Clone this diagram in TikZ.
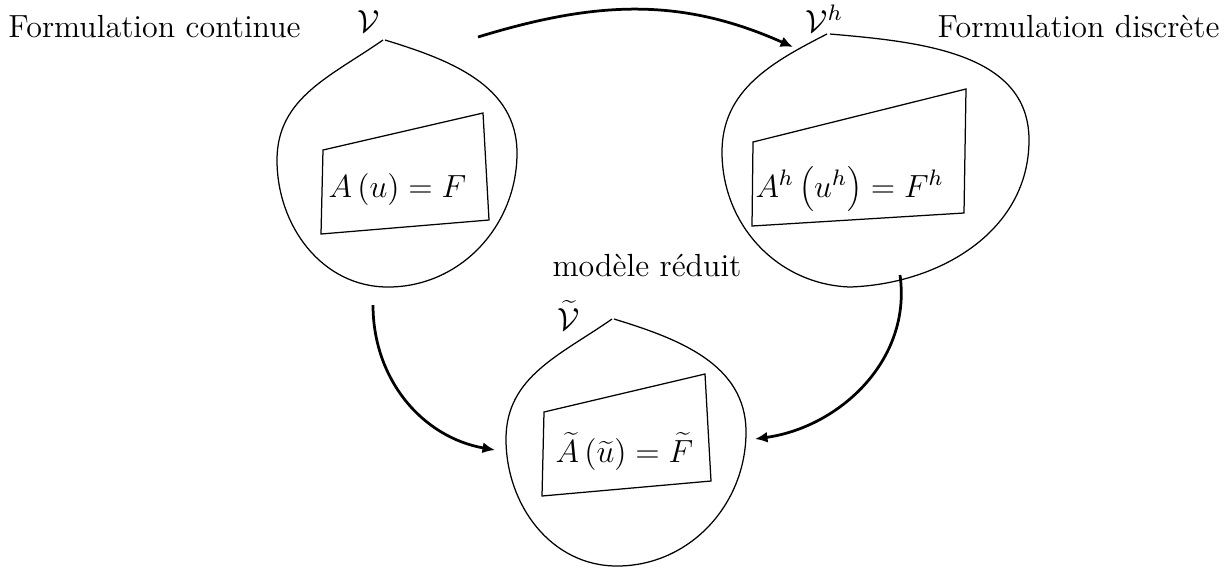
\RequirePackage{fix-cm}
\documentclass[tikz,border=0pt]{standalone}
\usetikzlibrary{arrows.meta}
\begin{document}
\begin{tikzpicture}[x=0.4pt,y=-0.4pt,
  blob/.style={line width=0.5pt},
  quad/.style={line width=0.5pt},
  conn/.style={line width=1.1pt,-{Latex[length=5pt,width=4.4pt]}},
  lbl/.style={font=\fontsize{12.8}{15}\selectfont, inner sep=0pt}]
\useasboundingbox (0,0) rectangle (1226,569);
% blobs
\draw[blob] (383,40) to[out=-145,in=90] (277,160) to[out=-90,in=180] (388,287)
  to[out=0,in=-90] (517,153) to[out=90,in=-17] (385,40);
\draw[blob] (827,34) to[out=-153,in=90] (722,152) to[out=-90,in=178] (850,287)
  to[out=2,in=-90] (1029,140) to[out=90,in=-5] (830,34);
\begin{scope}[shift={(229,279)}]
\draw[blob] (383,40) to[out=-145,in=90] (277,160) to[out=-90,in=180] (388,287)
  to[out=0,in=-90] (517,153) to[out=90,in=-17] (385,40);
\end{scope}
% quadrilaterals
\draw[quad] (323,150) -- (483,113) -- (489,220) -- (321,234) -- cycle;
\draw[quad] (753,142) -- (966,89) -- (964,213) -- (752,226) -- cycle;
\draw[quad] (544,412) -- (705,374) -- (711,481) -- (542,496) -- cycle;
% labels
\node[lbl, anchor=base west] (fc) at (8,37) {Formulation continue};
\node[lbl, anchor=base east] (fd) at (1220,37) {Formulation discrète};
\node[lbl, anchor=base] (mr) at (647,276) {modèle réduit};
\node[lbl, anchor=base west] (V) at (357,32) {$\mathcal{V}$};
\node[lbl, anchor=base west] (Vh) at (805,32) {$\mathcal{V}^h$};
\node[lbl, anchor=base west] (Vt) at (557,330) {$\widetilde{\mathcal{V}}$};
\node[lbl, anchor=base west] (e1) at (328,197) {$A\left(u\right)=F$};
\node[lbl, anchor=base west] (e2) at (755,197) {$A^h\left(u^h\right)=F^h$};
\node[lbl, anchor=base west] (e3) at (555,462) {$\widetilde{A}\left(\widetilde{u}\right)=\widetilde{F}$};
% connectors
\coordinate (t1) at (478,37); \coordinate (t2) at (793,47);
\coordinate (l1) at (373,305); \coordinate (l2) at (495,450);
\coordinate (r1) at (900,275); \coordinate (r2) at (755,439);
\draw[conn] (t1) to[out=17,in=156] (t2);
\draw[conn] (l1) to[out=-90,in=170] (l2);
\draw[conn] (r1) to[out=-82,in=8] (r2);
\end{tikzpicture}
\end{document}
